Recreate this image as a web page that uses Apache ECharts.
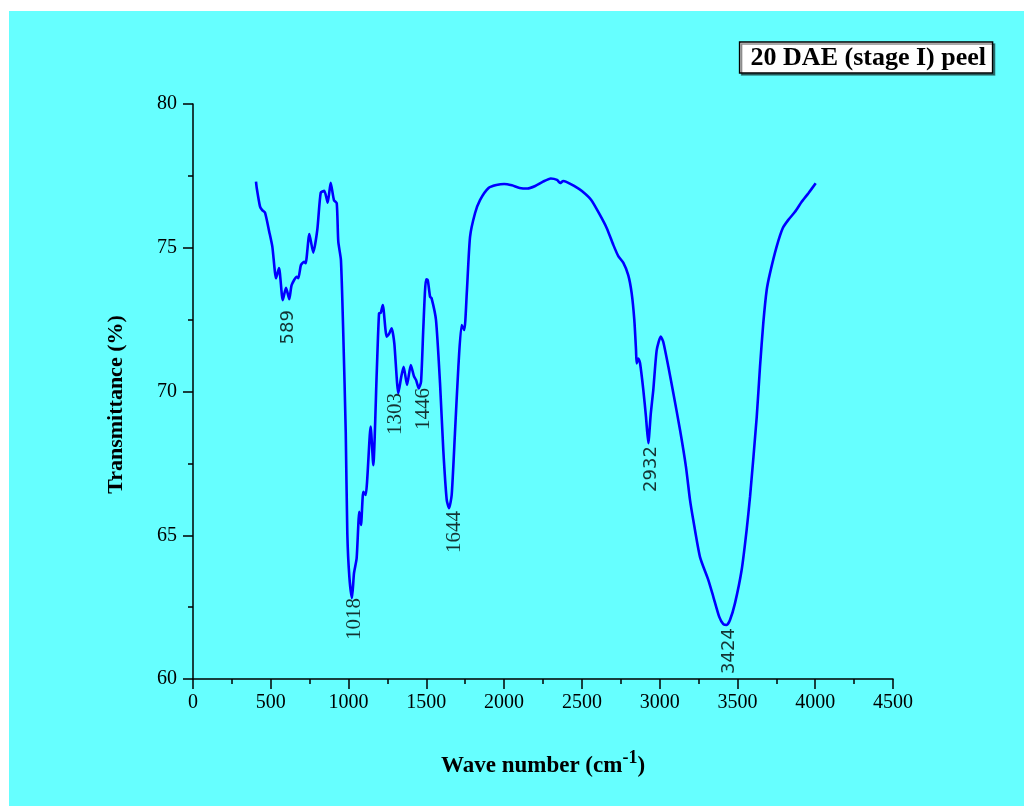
<!DOCTYPE html>
<html>
<head>
<meta charset="utf-8">
<script src="https://cdn.jsdelivr.net/npm/echarts@6/dist/echarts.min.js"></script>
<style>
  html, body { margin: 0; padding: 0; background: #fff; }
  #chart { position: absolute; left: 9px; top: 11px; width: 1015px; height: 795px; background: #66ffff; }
</style>
</head>
<body>
<div id="chart"></div>
<script>
// FTIR spectrum
const waveNumber = [
  405, 410, 431, 445, 463, 490, 510, 534, 553, 577, 598, 619, 634, 667, 677, 694, 714, 724, 748, 773,
  799, 821, 844, 866, 885, 906, 924, 934, 951, 966, 982, 992, 1005, 1022, 1035, 1052, 1069, 1080, 1095, 1110,
  1142, 1159, 1181, 1196, 1207, 1220, 1245, 1262, 1277, 1294, 1320, 1339, 1354, 1376, 1400, 1421, 1434, 1451, 1466, 1481,
  1498, 1509, 1524, 1534, 1562, 1588, 1609, 1631, 1646, 1663, 1684, 1706, 1727, 1744, 1760, 1781, 1813, 1845, 1900, 1950,
  2000, 2050, 2100, 2150, 2200, 2250, 2300, 2340, 2360, 2380, 2400, 2450, 2500, 2560, 2616, 2660, 2702, 2734, 2766, 2798,
  2820, 2837, 2848, 2852, 2863, 2874, 2895, 2912, 2927, 2943, 2959, 2981, 3007, 3023, 3056, 3088, 3131, 3169, 3195, 3216,
  3259, 3313, 3345, 3383, 3409, 3431, 3452, 3484, 3527, 3559, 3581, 3624, 3645, 3666, 3688, 3709, 3752, 3791, 3827, 3870,
  3913, 3955, 4003
]
const transmittance = [
  77.30, 77.07, 76.43, 76.31, 76.22, 75.56, 75.04, 73.94, 74.29, 73.18, 73.61, 73.21, 73.70, 73.99, 73.94, 74.40, 74.51, 74.46, 75.48, 74.83,
  75.62, 76.91, 76.98, 76.57, 77.26, 76.66, 76.55, 75.21, 74.57, 72.02, 68.55, 65.07, 63.56, 62.81, 63.68, 64.20, 65.82, 65.36, 66.51, 66.40,
  68.78, 67.44, 70.63, 72.72, 72.74, 73.01, 71.91, 72.02, 72.20, 71.68, 69.94, 70.52, 70.86, 70.23, 70.92, 70.52, 70.40, 70.11, 70.34, 72.25,
  73.90, 73.88, 73.30, 73.24, 72.49, 70.29, 67.97, 66.23, 65.94, 66.40, 68.55, 70.86, 72.31, 72.14, 73.42, 75.38, 76.20, 76.66, 77.08, 77.18,
  77.22, 77.17, 77.08, 77.06, 77.15, 77.30, 77.41, 77.36, 77.25, 77.32, 77.29, 77.15, 76.97, 76.66, 76.14, 75.68, 75.10, 74.71, 74.48, 74.05,
  73.42, 72.49, 71.44, 70.98, 71.15, 70.98, 70.05, 69.12, 68.20, 69.24, 70.05, 71.44, 71.91, 71.73, 70.86, 69.94, 68.66, 67.38, 66.23, 65.53,
  64.25, 63.44, 62.86, 62.16, 61.91, 61.88, 62.05, 62.63, 63.79, 65.18, 66.34, 69.12, 70.86, 72.37, 73.53, 74.11, 75.04, 75.68, 75.97, 76.25,
  76.60, 76.89, 77.24
]

// peak labels: text, where the label sits (x, top of text in %)
const peakLabels = ['589', '1018', '1303', '1446', '1644', '2932', '3424']
const peakLabelX = [611, 1041, 1299, 1479, 1678, 2944, 3446]
const peakLabelY = [72.83, 62.82, 69.95, 70.12, 65.84, 68.10, 61.77]
const sansLabels = ['589', '2932', '3424']

const serif = '"Liberation Serif", "Times New Roman", serif'
const sans = '"DejaVu Sans", sans-serif'

const chart = echarts.init(document.getElementById('chart'))

chart.setOption({
  animation: false,
  title: {
    text: '20 DAE (stage I) peel',
    right: 31,
    top: 31,
    padding: [3, 7, 2, 11],
    backgroundColor: '#fff',
    borderColor: '#000',
    borderWidth: 1.5,
    shadowColor: 'rgba(0,0,0,0.45)',
    shadowOffsetX: 2,
    shadowOffsetY: 2,
    textStyle: { fontFamily: serif, fontSize: 26, fontWeight: 'bold', color: '#000' }
  },
  grid: { left: 184, top: 93, right: 131, bottom: 127 },
  xAxis: {
    type: 'value',
    min: 0,
    max: 4500,
    interval: 500,
    name: '{t|Wave number (cm}{s|-1}{t|)}',
    nameLocation: 'middle',
    nameGap: 70,
    nameTextStyle: {
      rich: {
        t: { fontFamily: serif, fontSize: 23, fontWeight: 'bold', color: '#000' },
        s: { fontFamily: serif, fontSize: 18, fontWeight: 'bold', color: '#000', padding: [0, 0, 16, 0] }
      }
    },
    axisLine: { lineStyle: { color: '#000', width: 1.5 } },
    axisTick: { inside: false, length: 10, lineStyle: { color: '#000', width: 1.5 } },
    minorTick: { show: true, splitNumber: 2, length: 5, lineStyle: { color: '#000', width: 1.5 } },
    splitLine: { show: false },
    axisLabel: { margin: 14, fontFamily: serif, fontSize: 20, color: '#000', formatter: v => String(v) }
  },
  yAxis: {
    type: 'value',
    min: 60,
    max: 80,
    interval: 5,
    name: 'Transmittance (%)',
    nameLocation: 'middle',
    nameGap: 66,
    nameTextStyle: { fontFamily: serif, fontSize: 22, fontWeight: 'bold', color: '#000', padding: [0, 26, 0, 0] },
    axisLine: { show: true, lineStyle: { color: '#000', width: 1.5 } },
    axisTick: { show: true, inside: false, length: 10, lineStyle: { color: '#000', width: 1.5 } },
    minorTick: { show: true, splitNumber: 2, length: 5, lineStyle: { color: '#000', width: 1.5 } },
    splitLine: { show: false },
    axisLabel: { margin: 16, fontFamily: serif, fontSize: 20, color: '#000' }
  },
  series: [
    {
      type: 'line',
      data: waveNumber.map((x, i) => [x, transmittance[i]]),
      showSymbol: false,
      symbol: 'none',
      smooth: 0.2,
      lineStyle: { color: '#0000ff', width: 2.6 }
    },
    {
      type: 'scatter',
      symbolSize: 0,
      silent: true,
      data: peakLabels.map((t, i) => ({
        name: t,
        value: [peakLabelX[i], peakLabelY[i]],
        label: sansLabels.includes(t) ? { fontFamily: sans, fontSize: 18 } : { fontFamily: serif, fontSize: 21 }
      })),
      label: {
        show: true,
        formatter: p => p.name,
        position: [0, 0],
        rotate: 90,
        align: 'right',
        verticalAlign: 'middle',
        color: '#000'
      }
    }
  ]
})
window.addEventListener('resize', () => chart.resize())
</script>
</body>
</html>
